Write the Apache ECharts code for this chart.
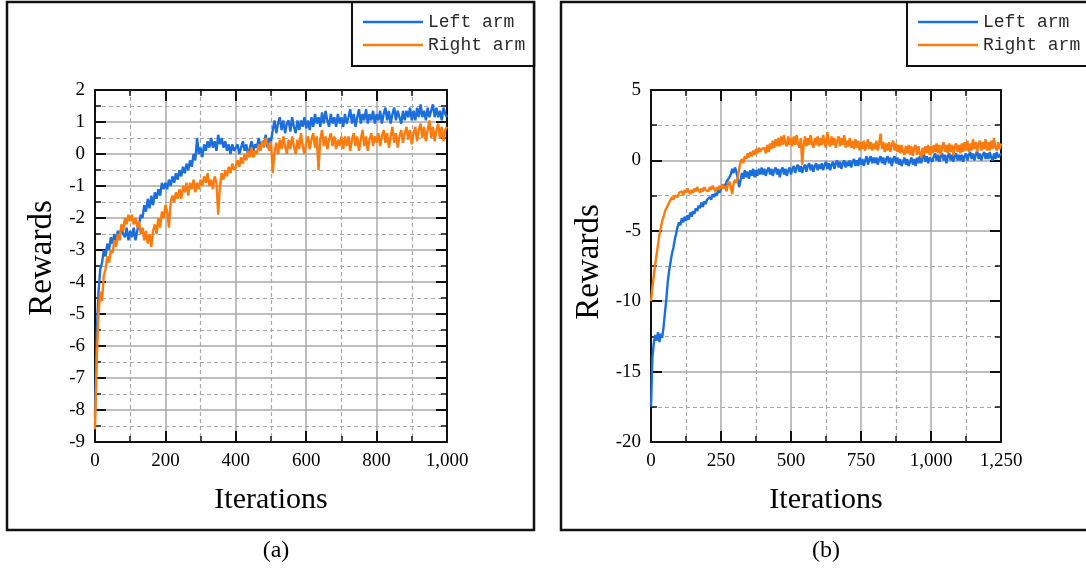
<!DOCTYPE html>
<html>
<head>
<meta charset="utf-8">
<script src="https://cdn.jsdelivr.net/npm/echarts@6/dist/echarts.min.js"></script>
<style>html,body{margin:0;padding:0;background:#fff}#c{width:1086px;height:574px}</style>
</head>
<body>
<div id="c"></div>
<script>
// ---- data (iteration step between samples) ----
const STEP_A = 5;
const STEP_B = 5;
const seriesNames = ['Left arm', 'Right arm'];
const panelLabels = ['(a)', '(b)'];
const xAxisA = { min: 0, max: 1000, interval: 200 };
const yAxisA = { min: -9, max: 2, interval: 1 };
const xAxisB = { min: 0, max: 1250, interval: 250 };
const yAxisB = { min: -20, max: 5, interval: 5 };

// (a) left arm rewards, iterations 0..1000 every 5
const leftArmA = [
 -8.2,-5.6,-4.3,-3.6,-3.4,-3.0,-3.2,-2.8,-3.0,-2.6,-2.8,-2.5,-2.7,-2.4,-2.6,-2.3,-2.5,-2.6,-2.3,-2.7,-2.4,
 -2.6,-2.3,-2.7,-2.4,-2.2,-1.9,-2.0,-1.6,-1.8,-1.4,-1.7,-1.3,-1.6,-1.2,-1.4,-1.1,-1.3,-0.9,-1.1,-0.9,
 -1.1,-0.8,-1.0,-0.7,-0.9,-0.6,-0.8,-0.5,-0.7,-0.4,-0.6,-0.3,-0.5,-0.2,-0.4,0.0,-0.2,0.5,0.0,0.2,
 -0.1,0.3,0.1,0.4,0.2,0.5,0.2,0.4,0.1,0.6,0.3,0.5,0.2,0.4,0.1,0.3,0.0,0.3,0.1,0.2,
 0.3,0.0,0.2,0.4,0.1,0.3,-0.1,0.2,0.4,0.1,0.3,0.2,0.5,0.2,0.4,0.3,0.6,0.2,0.5,0.4,
 0.75,1.05,0.65,0.95,1.15,0.75,1.05,0.65,0.95,1.05,0.7,1.15,0.85,0.65,1.05,0.75,1.05,0.85,1.15,0.8,
 1.05,0.75,1.15,0.85,1.25,0.95,1.15,0.85,1.3,0.95,1.35,1.05,0.85,1.25,0.95,1.15,0.85,1.25,0.95,1.15,
 0.85,1.25,0.95,1.15,1.4,0.95,1.25,0.85,1.15,1.4,0.95,1.25,1.05,1.4,0.95,1.25,1.05,1.35,0.95,1.25,
 1.05,1.35,0.95,1.25,1.45,1.05,1.35,0.95,1.25,1.45,1.05,1.35,1.15,0.95,1.35,1.05,1.35,1.15,1.45,1.05,
 1.35,1.05,1.45,1.15,1.55,1.15,1.35,1.05,1.45,1.15,1.35,1.55,1.15,1.45,1.15,1.35,1.05,1.45,1.25,1.15
];
// (a) right arm rewards
const rightArmA = [
 -8.6,-6.4,-5.0,-4.3,-4.6,-3.8,-3.6,-3.2,-3.4,-3.0,-3.1,-2.7,-2.9,-2.5,-2.7,-2.2,-2.4,-2.0,-2.2,-1.9,-2.1,
 -1.9,-2.2,-2.0,-2.3,-2.1,-2.5,-2.3,-2.7,-2.4,-2.8,-2.5,-2.9,-2.4,-2.2,-2.5,-2.0,-2.3,-1.8,-2.0,-1.6,
 -1.8,-2.3,-1.5,-1.3,-1.5,-1.2,-1.4,-1.1,-1.4,-1.0,-1.2,-0.9,-1.3,-0.9,-1.1,-0.8,-1.2,-0.9,-1.1,-0.8,
 -1.0,-0.7,-0.9,-0.6,-1.0,-0.8,-1.1,-0.7,-0.9,-1.9,-1.0,-0.6,-0.8,-0.5,-0.7,-0.4,-0.6,-0.3,-0.5,-0.4,
 -0.2,-0.4,-0.1,-0.3,0.0,-0.2,0.1,-0.1,0.2,-0.1,0.1,0.0,0.3,0.1,0.4,0.2,0.5,0.3,0.1,0.4,
 -0.6,0.05,0.35,0.0,0.45,0.15,0.55,0.25,0.0,0.45,0.15,0.55,0.25,0.0,0.45,0.15,0.65,0.25,0.0,0.35,
 0.55,0.15,0.45,0.65,0.2,0.55,-0.5,0.45,0.75,0.25,0.55,0.15,0.45,0.65,0.25,0.55,0.15,0.45,0.25,0.55,
 0.15,0.55,0.25,0.55,0.1,0.45,0.65,0.25,0.55,0.1,0.45,0.75,0.25,0.55,0.1,0.45,0.65,0.25,0.55,0.35,
 0.65,0.25,0.55,0.75,0.35,0.65,0.2,0.55,0.85,0.35,0.65,0.2,0.55,0.75,0.35,0.65,0.85,0.45,0.75,0.3,
 0.65,0.85,0.4,0.75,0.95,0.5,0.85,0.4,0.75,1.05,0.5,0.85,0.4,0.75,0.95,0.5,0.85,0.4,0.75,0.85
];
// (b) left arm rewards, iterations 0..1250 every 5
const leftArmB = [
 -17.5,-14.0,-13.0,-12.4,-12.8,-12.2,-12.9,-12.3,-12.6,-11.8,-10.8,-9.8,-8.6,-7.8,-7.2,-6.6,-6.2,-5.6,-5.2,-4.7,-4.4,
 -4.6,-4.1,-4.4,-4.0,-4.3,-3.9,-4.2,-3.7,-4.0,-3.6,-3.8,-3.4,-3.6,-3.2,-3.4,-3.0,-3.3,-2.9,-3.1,-2.8,
 -2.9,-2.6,-2.8,-2.4,-2.6,-2.3,-2.5,-2.1,-2.3,-2.0,-2.1,-1.7,-1.9,-1.5,-1.6,-1.2,-1.0,-0.6,-0.9,-0.5,
 -0.8,-1.3,-1.9,-1.4,-0.9,-1.3,-0.7,-1.2,-0.8,-1.3,-0.7,-1.1,-0.6,-1.2,-0.7,-1.1,-0.6,-1.0,-0.5,-1.0,
 -0.6,-1.1,-0.7,-0.5,-1.0,-0.6,-1.1,-0.7,-0.5,-1.0,-0.6,-1.2,-0.7,-0.5,-1.0,-0.6,-1.1,-0.7,-0.5,-1.0,
 -0.6,-0.4,-0.9,-0.5,-0.3,-0.8,-0.4,-0.9,-0.5,-0.3,-0.8,-0.4,-0.2,-0.7,-0.3,-0.8,-0.4,-0.2,-0.7,-0.3,
 -0.6,-0.2,-0.7,-0.3,-0.1,-0.6,-0.2,-0.7,-0.3,-0.1,-0.6,-0.2,0.0,-0.5,-0.1,-0.6,-0.2,0.0,-0.5,-0.1,
 -0.4,0.0,-0.5,-0.1,0.1,-0.4,0.0,-0.4,0.2,-0.3,0.1,-0.4,0.0,0.3,-0.3,0.1,0.3,-0.2,0.2,-0.2,
 0.2,-0.3,0.1,0.3,-0.2,0.2,-0.3,0.1,0.3,-0.2,0.2,-0.4,0.1,0.3,-0.2,0.2,-0.3,0.1,-0.4,-0.1,
 0.2,-0.3,0.1,-0.4,-0.1,0.2,-0.3,0.1,-0.4,0.2,-0.2,0.3,-0.2,0.2,0.4,-0.1,0.3,-0.2,0.2,0.3,
 -0.1,0.3,0.5,0.0,0.4,-0.1,0.3,0.5,0.0,0.4,-0.2,0.3,0.5,0.0,0.4,-0.1,0.3,0.5,0.0,0.4,
 0.0,0.4,-0.1,0.3,0.5,0.0,0.4,0.6,0.1,0.5,0.0,0.4,0.7,0.1,0.5,0.0,0.4,0.6,0.1,0.5,
 0.1,0.6,0.2,0.0,0.5,0.1,0.6,0.2,0.1,0.5
];
// (b) right arm rewards
const rightArmB = [
 -10.0,-9.0,-8.2,-7.4,-6.7,-6.0,-5.3,-4.8,-4.3,-4.0,-3.6,-3.4,-3.2,-3.0,-2.9,-2.6,-2.8,-2.5,-2.4,-2.6,-2.3,
 -2.4,-2.2,-2.5,-2.1,-2.3,-2.0,-2.2,-2.4,-2.1,-2.3,-2.0,-2.2,-1.9,-2.1,-2.3,-2.0,-2.2,-1.9,-2.1,-2.0,
 -2.2,-1.9,-2.1,-1.8,-2.0,-2.2,-1.9,-2.1,-1.8,-2.0,-1.7,-2.0,-1.8,-2.2,-1.7,-1.5,-1.9,-2.4,-1.6,-1.4,
 -1.6,-1.2,-0.6,-0.1,0.1,-0.2,0.3,0.1,0.5,0.2,0.6,0.3,0.7,0.4,0.8,0.5,0.9,0.6,0.8,0.7,
 0.9,0.5,1.1,0.6,1.2,0.8,1.4,0.9,1.5,1.0,1.6,1.0,1.7,1.1,1.8,1.2,1.0,1.7,1.1,1.6,
 1.0,1.7,1.1,1.8,1.2,0.9,1.6,-0.3,1.1,1.7,1.0,1.6,1.1,1.8,1.2,0.9,1.6,1.1,1.7,1.0,
 1.6,1.1,1.8,1.2,0.9,2.0,1.2,1.0,1.7,1.1,1.6,0.9,1.4,1.7,1.0,1.6,1.1,1.8,0.9,1.4,
 1.0,1.6,0.9,1.4,0.8,1.5,0.9,1.4,0.7,1.3,0.8,1.4,0.7,1.1,1.5,0.8,1.3,0.7,1.2,0.8,
 1.4,0.7,1.2,1.9,0.8,1.3,0.6,1.2,0.7,1.3,0.6,1.1,1.4,0.7,1.2,0.6,1.1,0.5,1.1,0.6,
 0.4,1.0,0.5,1.1,0.4,1.0,0.3,0.9,1.1,0.4,1.0,0.5,0.2,0.9,0.4,1.0,0.5,1.1,0.4,1.0,
 0.5,1.1,0.6,1.2,0.5,1.1,0.4,1.0,1.3,0.6,1.1,0.5,1.2,0.6,1.1,0.4,1.0,1.2,0.6,1.1,
 0.5,1.2,0.6,1.3,0.7,1.4,0.6,1.2,0.7,1.5,0.8,1.3,0.6,1.2,1.4,0.7,1.3,0.8,1.5,0.7,
 1.3,0.7,1.4,0.8,1.6,0.9,0.7,1.3,0.8,1.2
];

// ---- styling ----
const BLUE = '#1b6fdc';
const ORANGE = '#ff7b0c';
const SERIF = 'Liberation Serif, Times New Roman, serif';
const MONO = 'Liberation Mono, DejaVu Sans Mono, monospace';

function pairs(arr, step) { return arr.map((v, i) => [i * step, v]); }

function axis(range, pos, gridIndex, opts) {
  const shown = pos === 'bottom' || pos === 'left';
  return Object.assign({
    type: 'value', gridIndex: gridIndex, position: pos,
    min: range.min, max: range.max, interval: range.interval,
    axisLine: { show: true, onZero: false, lineStyle: { color: '#111', width: 2 } },
    axisTick: { show: true, inside: true, length: 11, lineStyle: { color: '#111', width: 2 } },
    minorTick: { show: true, splitNumber: 2, length: 6, lineStyle: { color: '#111', width: 1.5 } },
    axisLabel: { show: shown, color: '#000', fontFamily: SERIF, fontSize: 19, margin: 10 },
    splitLine: { show: shown, lineStyle: { color: '#a8a8a8', width: 1.5 } },
    minorSplitLine: { show: shown, lineStyle: { color: '#a8a8a8', width: 1.2, type: [4, 3] } }
  }, opts || {});
}

function legend(left, top, padRight) {
  return {
    data: seriesNames, orient: 'vertical', left: left, top: top,
    padding: [10, padRight, 11, 11], itemGap: 3, itemWidth: 60, itemHeight: 2.5, icon: 'rect',
    textStyle: { fontFamily: MONO, fontSize: 18, color: '#2a2a2a', lineHeight: 20 },
    borderColor: '#111', borderWidth: 2, backgroundColor: '#fff', selectedMode: false, z: 20
  };
}

function lineSeries(nameIdx, axisIdx, arr, step, color) {
  return { name: seriesNames[nameIdx], type: 'line', xAxisIndex: axisIdx, yAxisIndex: axisIdx,
    data: pairs(arr, step), showSymbol: false, symbol: 'none', color: color,
    lineStyle: { width: 2.4 } };
}

const chart = echarts.init(document.getElementById('c'), null, { renderer: 'canvas' });
chart.setOption({
  animation: false,
  backgroundColor: '#fff',
  grid: [
    { left: 95, top: 90, width: 352, height: 352 },
    { left: 651, top: 90, width: 350, height: 352 }
  ],
  xAxis: [
    axis(xAxisA, 'bottom', 0, { name: 'Iterations', nameLocation: 'middle', nameGap: 43,
      nameTextStyle: { fontFamily: SERIF, fontSize: 30, color: '#000' } }),
    axis(xAxisA, 'top', 0),
    axis(xAxisB, 'bottom', 1, { name: 'Iterations', nameLocation: 'middle', nameGap: 43,
      nameTextStyle: { fontFamily: SERIF, fontSize: 30, color: '#000' } }),
    axis(xAxisB, 'top', 1)
  ],
  yAxis: [
    axis(yAxisA, 'left', 0, { name: 'Rewards', nameLocation: 'middle', nameGap: 36,
      nameTextStyle: { fontFamily: SERIF, fontSize: 33, color: '#000', padding: [0, 0, 0, 16] } }),
    axis(yAxisA, 'right', 0),
    axis(yAxisB, 'left', 1, { name: 'Rewards', nameLocation: 'middle', nameGap: 45,
      nameTextStyle: { fontFamily: SERIF, fontSize: 33, color: '#000', padding: [0, 0, 0, 8] } }),
    axis(yAxisB, 'right', 1)
  ],
  legend: [legend(352, 2, 9), legend(907, 2, 24)],
  graphic: [
    { type: 'rect', shape: { x: 7, y: 2, width: 527, height: 528 }, style: { fill: null, stroke: '#111', lineWidth: 2.5 }, z: 30, silent: true },
    { type: 'rect', shape: { x: 561, y: 2, width: 540, height: 528 }, style: { fill: null, stroke: '#111', lineWidth: 2.5 }, z: 30, silent: true },
    { type: 'text', x: 276, y: 551, style: { text: panelLabels[0], font: '24px ' + SERIF, fill: '#000', textAlign: 'center', textVerticalAlign: 'middle' } },
    { type: 'text', x: 826, y: 551, style: { text: panelLabels[1], font: '24px ' + SERIF, fill: '#000', textAlign: 'center', textVerticalAlign: 'middle' } }
  ],
  series: [
    lineSeries(0, 0, leftArmA, STEP_A, BLUE),
    lineSeries(1, 0, rightArmA, STEP_A, ORANGE),
    lineSeries(0, 2, leftArmB, STEP_B, BLUE),
    lineSeries(1, 2, rightArmB, STEP_B, ORANGE)
  ]
});
</script>
</body>
</html>
